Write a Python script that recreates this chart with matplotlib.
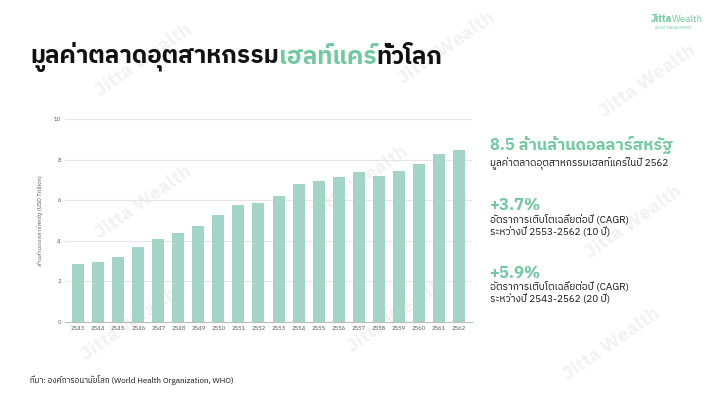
import matplotlib
matplotlib.use("Agg")
import matplotlib.pyplot as plt
from matplotlib import font_manager
from matplotlib.ft2font import FT2Font

years = ["2543", "2544", "2545", "2546", "2547", "2548", "2549", "2550", "2551", "2552",
         "2553", "2554", "2555", "2556", "2557", "2558", "2559", "2560", "2561", "2562"]
values = [2.85, 2.97, 3.22, 3.67, 4.09, 4.39, 4.74, 5.25, 5.76, 5.88,
          6.23, 6.82, 6.97, 7.14, 7.40, 7.19, 7.42, 7.79, 8.27, 8.49]
yticks = [0, 2, 4, 6, 8, 10]

title_a = "มูลค่าตลาดอุตสาหกรรม"
title_b = "เฮลท์แคร์"
title_c = "ทั่วโลก"
ylabel = "ล้านล้านดอลลาร์สหรัฐ (USD Trillion)"
stat1_big = "8.5 ล้านล้านดอลลาร์สหรัฐ"
stat1_small = "มูลค่าตลาดอุตสาหกรรมเฮลท์แคร์ในปี 2562"
stat2_big = "+3.7%"
stat2_small = "อัตราการเติบโตเฉลี่ยต่อปี (CAGR)\nระหว่างปี 2553-2562 (10 ปี)"
stat3_big = "+5.9%"
stat3_small = "อัตราการเติบโตเฉลี่ยต่อปี (CAGR)\nระหว่างปี 2543-2562 (20 ปี)"
source = "ที่มา: องค์การอนามัยโลก (World Health Organization, WHO)"

# find a family that covers Thai
thai_fam = None
for f in font_manager.fontManager.ttflist:
    try:
        if 0x0E01 in FT2Font(f.fname).get_charmap():
            thai_fam = f.name
            if "Thai" in f.name or "Loop" in f.name:
                break
    except Exception:
        pass
fams = ([thai_fam] if thai_fam else []) + ["DejaVu Sans"]
plt.rcParams['font.family'] = fams

GREEN = "#72c9a0"
BAR = "#a2d4c8"

fig = plt.figure(figsize=(7.2, 4.05), dpi=100)
fig.patch.set_facecolor("white")

# faint watermarks (behind everything)
for (x, y) in [(0.2, 0.85), (0.62, 0.88), (0.9, 0.8), (0.2, 0.5), (0.5, 0.55), (0.88, 0.45),
               (0.18, 0.2), (0.55, 0.22), (0.85, 0.15)]:
    fig.text(x, y, "Jitta Wealth", fontsize=14, color="#f2f2f2", rotation=35,
             ha="center", va="center", fontweight="bold", zorder=-5)

ax = fig.add_axes([65/720, 1 - 322/405, (472-65)/720, (322-119)/405])
ax.set_zorder(1)
xs = range(len(years))
ax.bar(xs, values, width=0.6, color=BAR, zorder=3)
ax.set_xlim(-0.65, len(years) - 0.35)
ax.set_ylim(0, 10)
ax.set_yticks(yticks)
ax.set_xticks(list(xs))
ax.set_xticklabels(years)
ax.tick_params(axis="both", labelsize=4.2, colors="#555555", length=0, pad=3)
ax.yaxis.grid(True, color="#e6e6e6", linewidth=0.8, zorder=0)
ax.set_axisbelow(True)
for s in ["top", "right", "left"]:
    ax.spines[s].set_visible(False)
ax.spines["bottom"].set_color("#bbbbbb")
ax.spines["bottom"].set_linewidth(0.8)
ax.set_facecolor("none")
ax.set_ylabel(ylabel, fontsize=4.2, color="#555555", labelpad=8)

# title
TS = 17.5
t1 = fig.text(30/720, 1 - 57/405, title_a, fontsize=TS, fontweight="bold", color="#111111", va="center")
fig.canvas.draw()
r = fig.canvas.get_renderer()
bb = t1.get_window_extent(r)
t2 = fig.text(bb.x1/720, 1 - 57/405, title_b, fontsize=TS, fontweight="bold", color=GREEN, va="center")
bb2 = t2.get_window_extent(r)
fig.text(bb2.x1/720, 1 - 57/405, title_c, fontsize=TS, fontweight="bold", color="#111111", va="center")

# logo
fig.text(672/720, 1 - 19/405, "Jitta", fontsize=7, fontweight="bold", color=GREEN, ha="right", va="center")
fig.text(672/720, 1 - 19/405, "Wealth", fontsize=7, color=GREEN, ha="left", va="center")
fig.text(673/720, 1 - 28/405, "ASSET MANAGEMENT", fontsize=2.6, color=GREEN, ha="center", va="center")

# stats
X = 490/720
fig.text(X, 1 - 145/405, stat1_big, fontsize=11.8, fontweight="bold", color=GREEN, va="center")
fig.text(X, 1 - 163/405, stat1_small, fontsize=7.2, color="#111111", va="center")
fig.text(X, 1 - 206/405, stat2_big, fontsize=12, fontweight="bold", color=GREEN, va="center")
fig.text(X, 1 - 226/405, stat2_small, fontsize=7.2, color="#111111", va="center", linespacing=1.3)
fig.text(X, 1 - 273/405, stat3_big, fontsize=12, fontweight="bold", color=GREEN, va="center")
fig.text(X, 1 - 293/405, stat3_small, fontsize=7.2, color="#111111", va="center", linespacing=1.3)

fig.text(30/720, 1 - 380/405, source, fontsize=5.8, color="#111111", va="center")

fig.savefig("out.png", dpi=100)
